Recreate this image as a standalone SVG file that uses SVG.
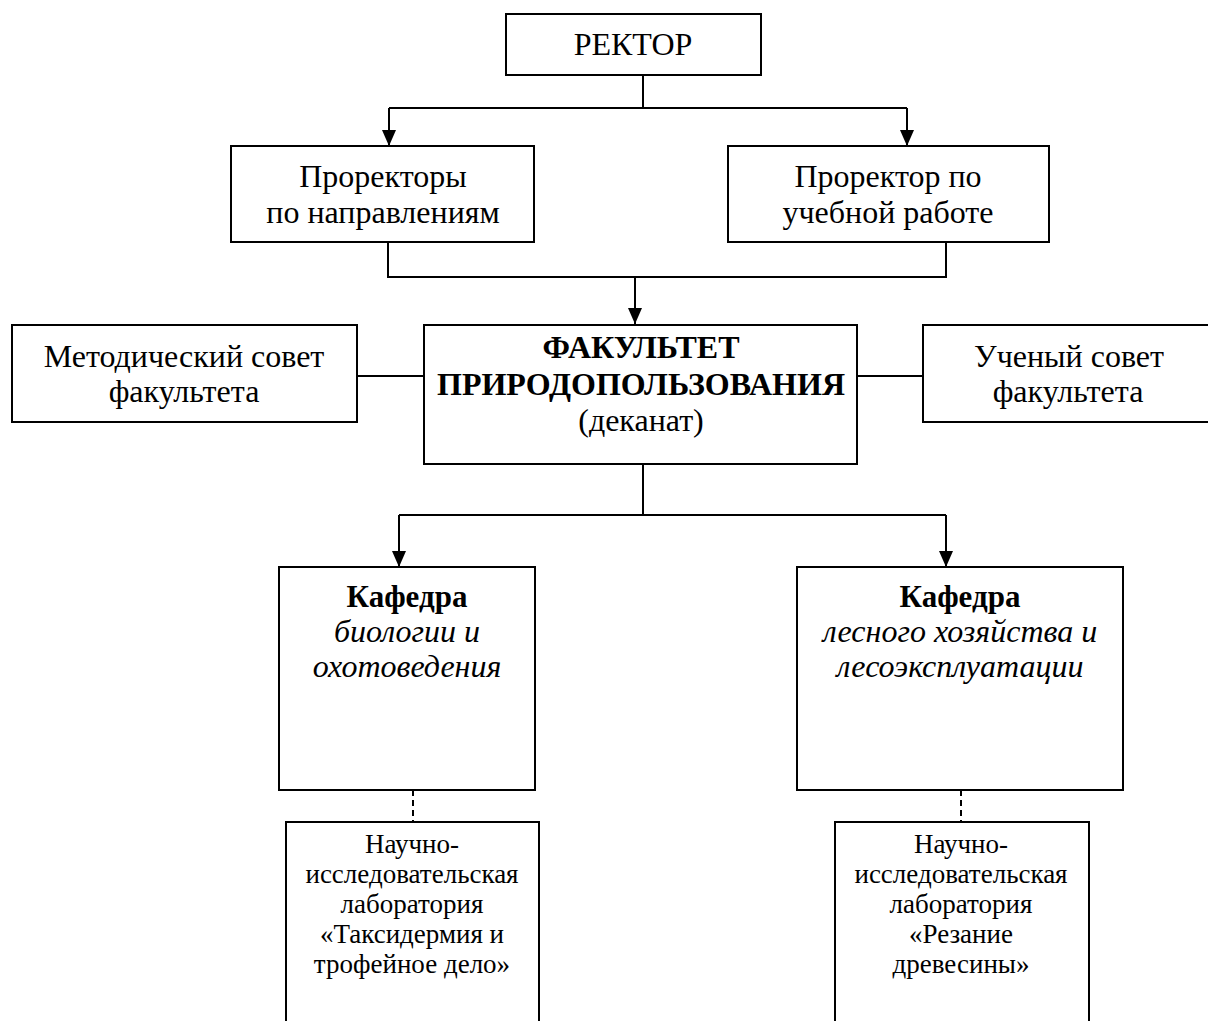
<svg xmlns="http://www.w3.org/2000/svg" width="1208" height="1021" viewBox="0 0 1208 1021">
<defs>
<marker id="arr" markerUnits="userSpaceOnUse" markerWidth="16" markerHeight="16" viewBox="0 0 16 16" refX="16" refY="8" orient="auto">
<path d="M0,1 L16,8 L0,15 Z" fill="#000"/>
</marker>
<style>
.box{fill:#fff;stroke:#000;stroke-width:2}
.ln{fill:none;stroke:#000;stroke-width:2}
.dash{fill:none;stroke:#000;stroke-width:2;stroke-dasharray:6 4}
text{font-family:"Liberation Serif","Times New Roman",serif;fill:#000;text-anchor:middle}
.t{font-size:32px}
.b{font-size:32px;font-weight:bold}
.k{font-size:31px;font-weight:bold}
.i{font-size:32px;font-style:italic}
.s{font-size:27px}
</style>
</defs>
<rect width="1208" height="1021" fill="#fff"/>
<g id="connectors">
<path class="ln" d="M643,75 V108"/>
<path class="ln" d="M389,108 H907"/>
<path class="ln" d="M389,108 V146" marker-end="url(#arr)"/>
<path class="ln" d="M907,108 V146" marker-end="url(#arr)"/>
<path class="ln" d="M388,242 V277 H946 V242"/>
<path class="ln" d="M635,277 V324" marker-end="url(#arr)"/>
<path class="ln" d="M357,376 H424"/>
<path class="ln" d="M857,376 H923"/>
<path class="ln" d="M643,464 V515"/>
<path class="ln" d="M399,515 H946"/>
<path class="ln" d="M399,515 V567" marker-end="url(#arr)"/>
<path class="ln" d="M946,515 V567" marker-end="url(#arr)"/>
<path class="dash" d="M413,790 V822"/>
<path class="dash" d="M961,790 V822"/>
</g>
<g id="rektor">
<rect class="box" x="506" y="14" width="255" height="61"/>
<text class="t" x="633" y="55">РЕКТОР</text>
</g>
<g id="prorektory">
<rect class="box" x="231" y="146" width="303" height="96"/>
<text class="t" x="383" y="187">Проректоры</text>
<text class="t" x="383" y="223">по направлениям</text>
</g>
<g id="prorektor-ucheb">
<rect class="box" x="728" y="146" width="321" height="96"/>
<text class="t" x="888" y="187">Проректор по</text>
<text class="t" x="888" y="223">учебной работе</text>
</g>
<g id="metod-sovet">
<rect class="box" x="12" y="325" width="345" height="97"/>
<text class="t" x="184" y="367">Методический совет</text>
<text class="t" x="184" y="402">факультета</text>
</g>
<g id="fakultet">
<rect class="box" x="424" y="325" width="433" height="139"/>
<text class="b" x="641" y="358">ФАКУЛЬТЕТ</text>
<text class="b" x="641" y="395">ПРИРОДОПОЛЬЗОВАНИЯ</text>
<text class="t" x="641" y="431">(деканат)</text>
</g>
<g id="uchenyi-sovet">
<rect class="box" x="923" y="325" width="300" height="97"/>
<text class="t" x="1069" y="367">Ученый совет</text>
<text class="t" x="1068" y="402">факультета</text>
</g>
<g id="kafedra-bio">
<rect class="box" x="279" y="567" width="256" height="223"/>
<text class="k" x="407" y="607">Кафедра</text>
<text class="i" x="407" y="642">биологии и</text>
<text class="i" x="407" y="677">охотоведения</text>
</g>
<g id="kafedra-les">
<rect class="box" x="797" y="567" width="326" height="223"/>
<text class="k" x="960" y="607">Кафедра</text>
<text class="i" x="960" y="642">лесного хозяйства и</text>
<text class="i" x="960" y="677">лесоэксплуатации</text>
</g>
<g id="lab-taxidermia">
<rect class="box" x="286" y="822" width="253" height="220"/>
<text class="s" x="412" y="853">Научно-</text>
<text class="s" x="412" y="883">исследовательская</text>
<text class="s" x="412" y="913">лаборатория</text>
<text class="s" x="412" y="943">«Таксидермия и</text>
<text class="s" x="412" y="973">трофейное дело»</text>
</g>
<g id="lab-rezanie">
<rect class="box" x="835" y="822" width="254" height="220"/>
<text class="s" x="961" y="853">Научно-</text>
<text class="s" x="961" y="883">исследовательская</text>
<text class="s" x="961" y="913">лаборатория</text>
<text class="s" x="961" y="943">«Резание</text>
<text class="s" x="961" y="973">древесины»</text>
</g>
</svg>
